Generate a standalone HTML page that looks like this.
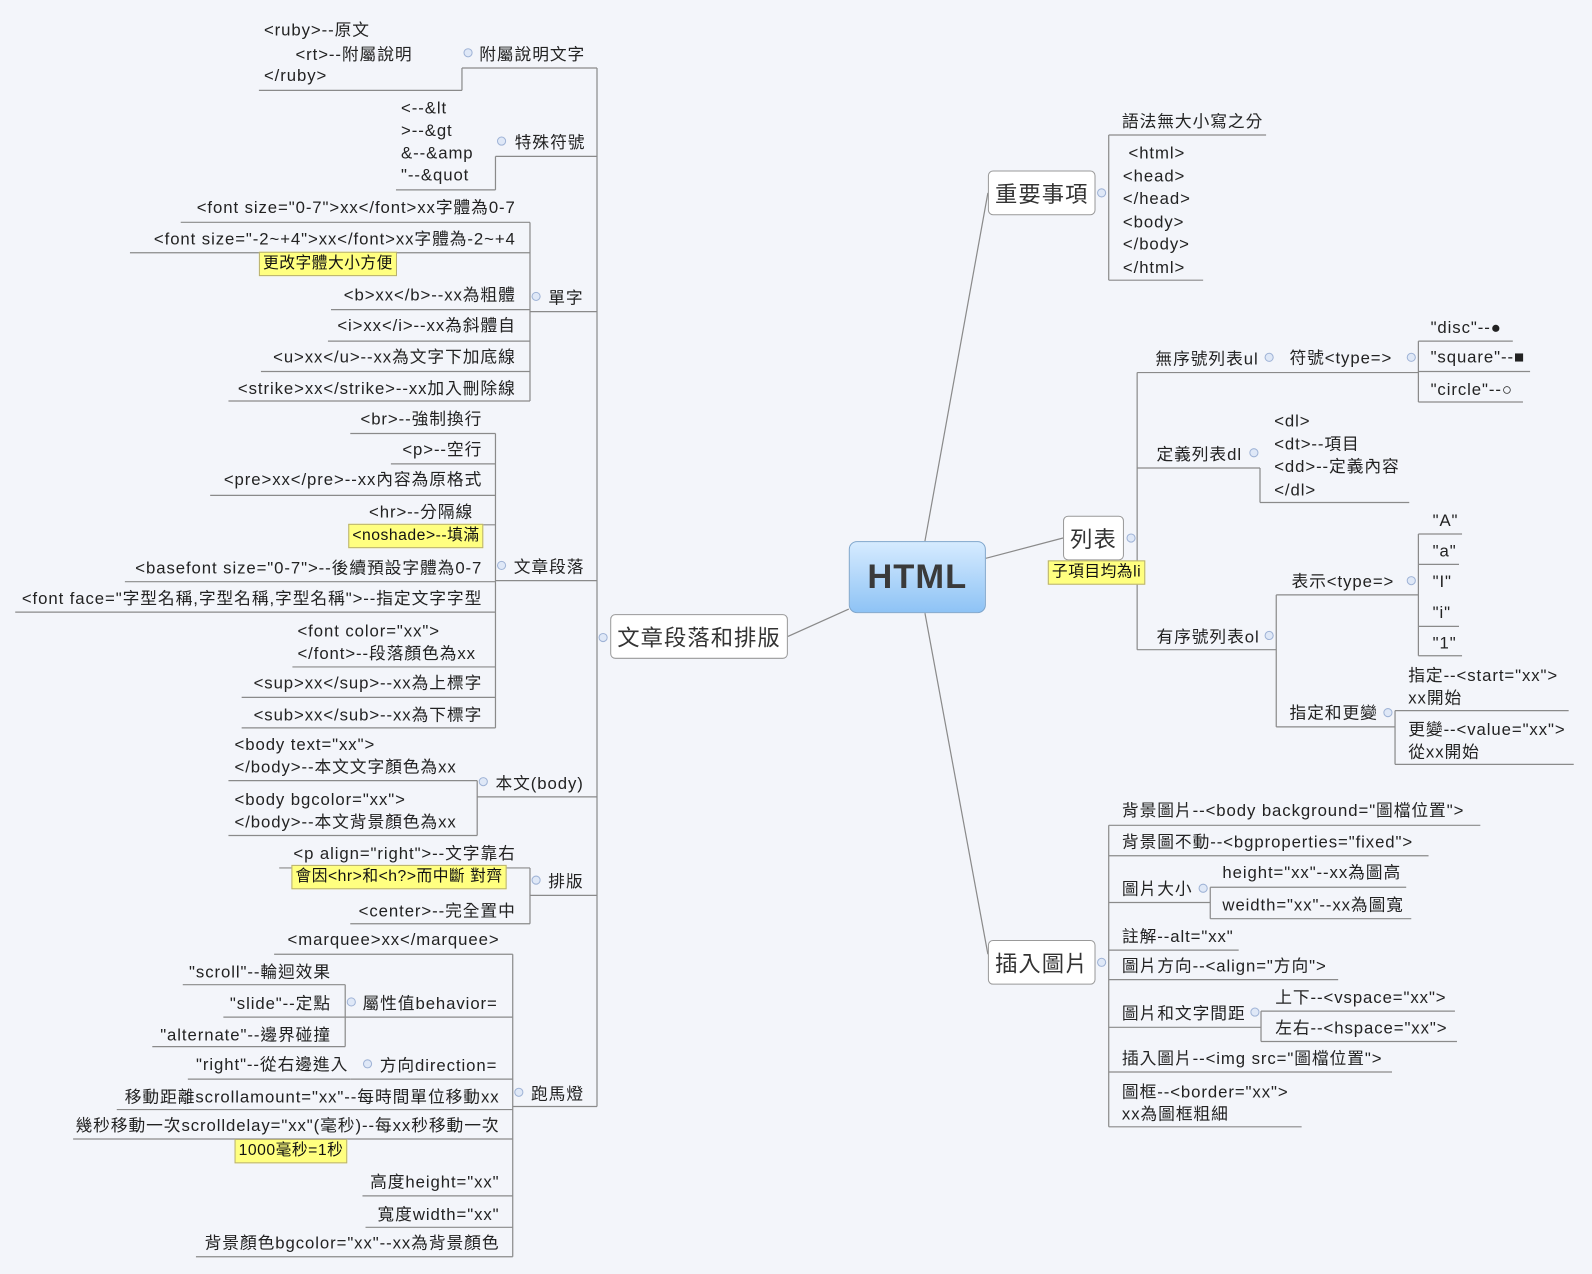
<!DOCTYPE html>
<html><head><meta charset="utf-8">
<style>
html,body{margin:0;padding:0;width:1592px;height:1274px;overflow:hidden;background:#f3f5fa;}
#w{position:absolute;left:0;top:0;width:1568px;height:1255px;transform:scale(1.01531,1.01514);transform-origin:0 0;}
.t{position:absolute;white-space:nowrap;font-family:"Liberation Sans","Noto Sans CJK TC","Noto Sans CJK SC",sans-serif;font-size:16.5px;letter-spacing:0.9px;line-height:22px;color:#222;margin-top:2px;}
.r{text-align:right;}
.n{position:absolute;background:#ffff80;border:1px solid #b8b070;font-family:"Liberation Sans","Noto Sans CJK TC",sans-serif;font-size:15.5px;letter-spacing:0.5px;line-height:22px;padding:0 3px;white-space:nowrap;color:#111;}
.b{position:absolute;background:#fff;border:1px solid #999;border-radius:5px;font-family:"Liberation Sans","Noto Sans CJK TC",sans-serif;font-size:22px;letter-spacing:1px;color:#333;display:flex;align-items:center;justify-content:center;box-sizing:border-box;}
svg{position:absolute;left:0;top:0;}
</style></head><body><div id="w">
<svg width="1568" height="1255" fill="none" stroke="#8a8a8a" stroke-width="1.2">
<path d="M911 533 L973 190 M971 550 L1047 530 M836 600 L776 627 M911 604 L973 940"/>
<path d="M588 67 V1090"/>
<path d="M455 67 H588 M455 67 V89 M255 89 H455"/>
<path d="M488 154 H588 M488 154 V187 M390 187 H488"/>
<path d="M522 307 H588 M522 219 V395 M178 219 H522 M128 249 H522 M326 305 H522 M323 336 H522 M257 366 H522 M225 395 H522"/>
<path d="M488 572 H588 M488 427 V717 M345 427 H488 M385 457 H488 M207 488 H488 M343 517 H488 M123 573 H488 M15 603 H488 M288 657 H488 M238 687 H488 M238 717 H488"/>
<path d="M470 785 H588 M470 769 V823 M225 769 H470 M225 823 H470"/>
<path d="M522 882 H588 M522 855 V910 M275 855 H522 M345 910 H522"/>
<path d="M505 1090 H588 M505 940 V1238 M270 940 H505 M340 1002 H505 M345 1063 H505 M115 1093 H505 M72 1122 H505 M357 1178 H505 M360 1209 H505 M193 1238 H505"/>
<path d="M340 970 V1031 M180 970 H340 M220 1002 H340 M150 1031 H340 M185 1063 H345"/>
<path d="M1092 133 V276 M1092 133 H1247 M1092 276 H1185"/>
<path d="M1120 367 V640 M1120 367 H1397 M1397 336 V396 M1397 336 H1490 M1397 366 H1507 M1397 396 H1500"/>
<path d="M1120 461 H1241 M1241 461 V495 M1241 495 H1388"/>
<path d="M1120 640 H1257 M1257 586 V716 M1257 586 H1397 M1397 526 V646 M1397 526 H1440 M1397 556 H1437 M1397 617 H1437 M1397 646 H1440 M1257 716 H1374 M1374 700 V753 M1374 700 H1545 M1374 753 H1550"/>
<path d="M1092 813 V1110 M1092 813 H1458 M1092 843 H1407 M1092 889 H1192 M1192 874 V905 M1192 874 H1385 M1192 905 H1390 M1092 936 H1220 M1092 965 H1318 M1092 1012 H1242 M1242 996 V1026 M1242 996 H1433 M1242 1026 H1435 M1092 1056 H1371 M1092 1110 H1282"/>
<g fill="#dfe8f7" stroke="#9fb3d6" stroke-width="1">
<circle cx="461" cy="52" r="4"/><circle cx="494" cy="139" r="4"/><circle cx="528" cy="292" r="4"/><circle cx="494" cy="557" r="4"/><circle cx="476" cy="770" r="4"/><circle cx="528" cy="867" r="4"/><circle cx="511" cy="1076" r="4"/><circle cx="346" cy="987" r="4"/><circle cx="362" cy="1048" r="4"/><circle cx="594" cy="628" r="4"/>
<circle cx="1085" cy="190" r="4"/><circle cx="1114" cy="530" r="4"/><circle cx="1085" cy="948" r="4"/><circle cx="1250" cy="352" r="4"/><circle cx="1390" cy="352" r="4"/><circle cx="1235" cy="446" r="4"/><circle cx="1250" cy="626" r="4"/><circle cx="1390" cy="572" r="4"/><circle cx="1367" cy="702" r="4"/><circle cx="1185" cy="875" r="4"/><circle cx="1236" cy="997" r="4"/>
</g>
</svg>

<div class="b" style="left:836px;top:533px;width:135px;height:71px;background:linear-gradient(#d6ebff,#8ec3f5);border-color:#7fa6cc;border-radius:8px;font-size:34px;font-weight:bold;color:#3a3a3a;">HTML</div>
<div class="b" style="left:601px;top:605px;width:175px;height:44px;">文章段落和排版</div>
<div class="b" style="left:973px;top:168px;width:106px;height:44px;">重要事項</div>
<div class="b" style="left:1047px;top:508px;width:60px;height:44px;">列表</div>
<div class="n" style="left:1032px;top:552px;">子項目均為li</div>
<div class="b" style="left:973px;top:926px;width:106px;height:44px;">插入圖片</div>

<div class="t" style="left:472px;top:41px;">附屬說明文字</div>
<div class="t" style="left:260px;top:17px;">&lt;ruby&gt;--原文</div>
<div class="t" style="left:291px;top:41px;">&lt;rt&gt;--附屬說明</div>
<div class="t" style="left:260px;top:62px;">&lt;/ruby&gt;</div>
<div class="t" style="left:507px;top:128px;">特殊符號</div>
<div class="t" style="left:395px;top:94px;">&lt;--&amp;lt<br>&gt;--&amp;gt<br>&amp;--&amp;amp<br>"--&amp;quot</div>

<div class="t" style="left:540px;top:281px;">單字</div>
<div class="t r" style="right:1060px;top:192px;">&lt;font size="0-7"&gt;xx&lt;/font&gt;xx字體為0-7</div>
<div class="t r" style="right:1060px;top:223px;">&lt;font size="-2~+4"&gt;xx&lt;/font&gt;xx字體為-2~+4</div>
<div class="n" style="left:255px;top:248px;">更改字體大小方便</div>
<div class="t r" style="right:1060px;top:278px;">&lt;b&gt;xx&lt;/b&gt;--xx為粗體</div>
<div class="t r" style="right:1060px;top:308px;">&lt;i&gt;xx&lt;/i&gt;--xx為斜體自</div>
<div class="t r" style="right:1060px;top:339px;">&lt;u&gt;xx&lt;/u&gt;--xx為文字下加底線</div>
<div class="t r" style="right:1060px;top:370px;">&lt;strike&gt;xx&lt;/strike&gt;--xx加入刪除線</div>

<div class="t" style="left:506px;top:546px;">文章段落</div>
<div class="t r" style="right:1093px;top:400px;">&lt;br&gt;--強制換行</div>
<div class="t r" style="right:1093px;top:430px;">&lt;p&gt;--空行</div>
<div class="t r" style="right:1093px;top:460px;">&lt;pre&gt;xx&lt;/pre&gt;--xx內容為原格式</div>
<div class="t r" style="right:1102px;top:492px;">&lt;hr&gt;--分隔線</div>
<div class="n" style="left:343px;top:516px;">&lt;noshade&gt;--填滿</div>
<div class="t r" style="right:1093px;top:547px;">&lt;basefont size="0-7"&gt;--後續預設字體為0-7</div>
<div class="t r" style="right:1093px;top:577px;">&lt;font face="字型名稱,字型名稱,字型名稱"&gt;--指定文字字型</div>
<div class="t" style="left:293px;top:609px;">&lt;font color="xx"&gt;<br>&lt;/font&gt;--段落顏色為xx</div>
<div class="t r" style="right:1093px;top:660px;">&lt;sup&gt;xx&lt;/sup&gt;--xx為上標字</div>
<div class="t r" style="right:1093px;top:692px;">&lt;sub&gt;xx&lt;/sub&gt;--xx為下標字</div>

<div class="t" style="left:488px;top:759px;">本文(body)</div>
<div class="t" style="left:231px;top:721px;">&lt;body text="xx"&gt;<br>&lt;/body&gt;--本文文字顏色為xx</div>
<div class="t" style="left:231px;top:775px;">&lt;body bgcolor="xx"&gt;<br>&lt;/body&gt;--本文背景顏色為xx</div>

<div class="t" style="left:540px;top:856px;">排版</div>
<div class="t r" style="right:1060px;top:828px;">&lt;p align="right"&gt;--文字靠右</div>
<div class="n" style="left:287px;top:852px;">會因&lt;hr&gt;和&lt;h?&gt;而中斷 對齊</div>
<div class="t r" style="right:1060px;top:885px;">&lt;center&gt;--完全置中</div>

<div class="t" style="left:523px;top:1065px;">跑馬燈</div>
<div class="t r" style="right:1076px;top:913px;">&lt;marquee&gt;xx&lt;/marquee&gt;</div>
<div class="t" style="left:357px;top:976px;">屬性值behavior=</div>
<div class="t r" style="right:1242px;top:945px;">"scroll"--輪迴效果</div>
<div class="t r" style="right:1242px;top:976px;">"slide"--定點</div>
<div class="t r" style="right:1242px;top:1007px;">"alternate"--邊界碰撞</div>
<div class="t" style="left:374px;top:1037px;">方向direction=</div>
<div class="t r" style="right:1225px;top:1036px;">"right"--從右邊進入</div>
<div class="t r" style="right:1076px;top:1068px;">移動距離scrollamount="xx"--每時間單位移動xx</div>
<div class="t r" style="right:1076px;top:1096px;">幾秒移動一次scrolldelay="xx"(毫秒)--每xx秒移動一次</div>
<div class="n" style="left:231px;top:1122px;">1000毫秒=1秒</div>
<div class="t r" style="right:1076px;top:1152px;">高度height="xx"</div>
<div class="t r" style="right:1076px;top:1184px;">寬度width="xx"</div>
<div class="t r" style="right:1076px;top:1212px;">背景顏色bgcolor="xx"--xx為背景顏色</div>

<div class="t" style="left:1105px;top:107px;">語法無大小寫之分</div>
<div class="t" style="left:1106px;top:138px;line-height:22.6px;">&nbsp;&lt;html&gt;<br>&lt;head&gt;<br>&lt;/head&gt;<br>&lt;body&gt;<br>&lt;/body&gt;<br>&lt;/html&gt;</div>

<div class="t" style="left:1138px;top:341px;">無序號列表ul</div>
<div class="t" style="left:1270px;top:340px;">符號&lt;type=&gt;</div>
<div class="t" style="left:1409px;top:310px;">"disc"--●</div>
<div class="t" style="left:1409px;top:339px;">"square"--■</div>
<div class="t" style="left:1409px;top:371px;">"circle"--○</div>
<div class="t" style="left:1139px;top:435px;">定義列表dl</div>
<div class="t" style="left:1255px;top:402px;line-height:22.5px;">&lt;dl&gt;<br>&lt;dt&gt;--項目<br>&lt;dd&gt;--定義內容<br>&lt;/dl&gt;</div>
<div class="t" style="left:1139px;top:615px;">有序號列表ol</div>
<div class="t" style="left:1272px;top:560px;">表示&lt;type=&gt;</div>
<div class="t" style="left:1411px;top:500px;">"A"</div>
<div class="t" style="left:1411px;top:530px;">"a"</div>
<div class="t" style="left:1411px;top:560px;">"I"</div>
<div class="t" style="left:1411px;top:591px;">"i"</div>
<div class="t" style="left:1411px;top:621px;">"1"</div>
<div class="t" style="left:1270px;top:690px;">指定和更變</div>
<div class="t" style="left:1387px;top:653px;">指定--&lt;start="xx"&gt;<br>xx開始</div>
<div class="t" style="left:1387px;top:706px;">更變--&lt;value="xx"&gt;<br>從xx開始</div>

<div class="t" style="left:1105px;top:786px;">背景圖片--&lt;body background="圖檔位置"&gt;</div>
<div class="t" style="left:1105px;top:817px;">背景圖不動--&lt;bgproperties="fixed"&gt;</div>
<div class="t" style="left:1105px;top:863px;">圖片大小</div>
<div class="t" style="left:1204px;top:847px;">height="xx"--xx為圖高</div>
<div class="t" style="left:1204px;top:879px;">weidth="xx"--xx為圖寬</div>
<div class="t" style="left:1105px;top:910px;">註解--alt="xx"</div>
<div class="t" style="left:1105px;top:939px;">圖片方向--&lt;align="方向"&gt;</div>
<div class="t" style="left:1105px;top:986px;">圖片和文字間距</div>
<div class="t" style="left:1256px;top:970px;">上下--&lt;vspace="xx"&gt;</div>
<div class="t" style="left:1256px;top:1000px;">左右--&lt;hspace="xx"&gt;</div>
<div class="t" style="left:1105px;top:1030px;">插入圖片--&lt;img src="圖檔位置"&gt;</div>
<div class="t" style="left:1105px;top:1063px;">圖框--&lt;border="xx"&gt;<br>xx為圖框粗細</div>
</div></body></html>
